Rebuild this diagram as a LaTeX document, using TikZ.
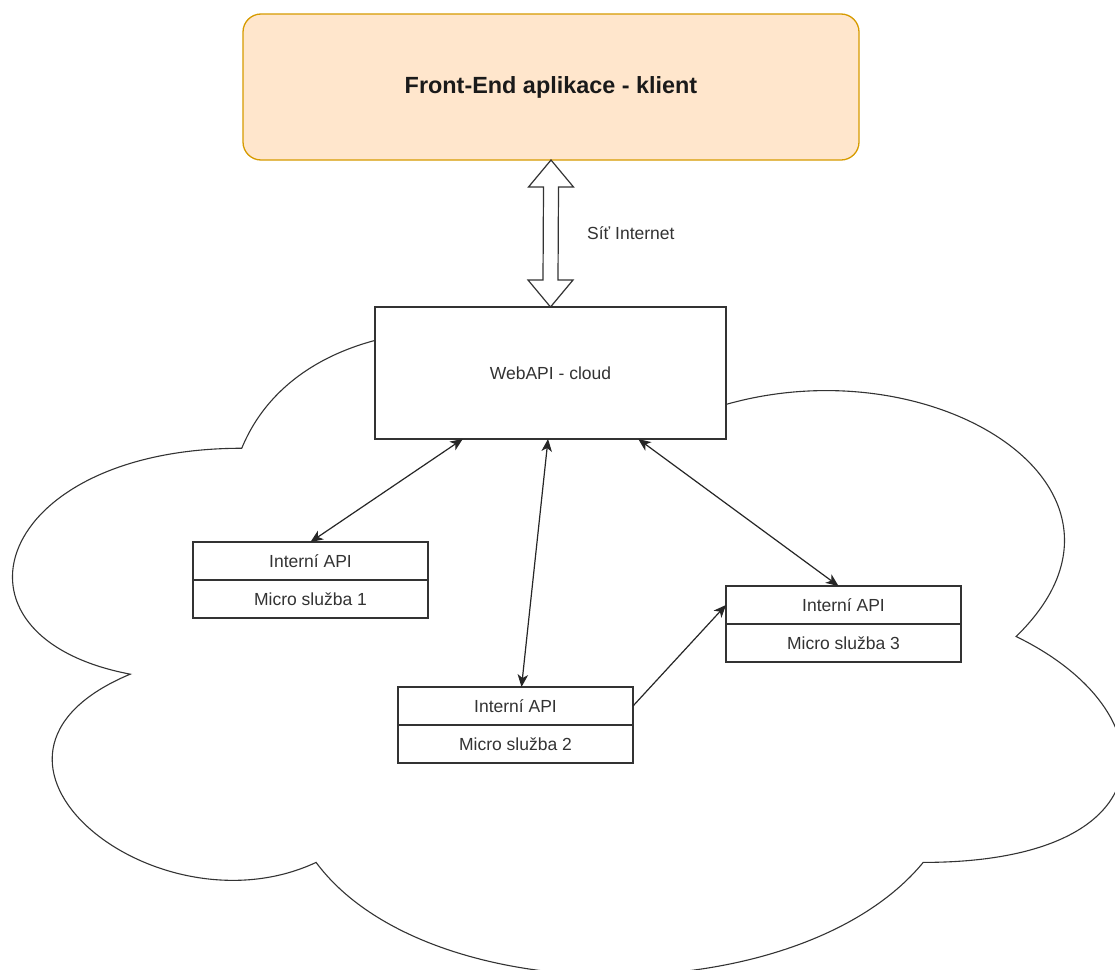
\documentclass[tikz,border=0pt]{standalone}
\usepackage{fontspec}
\setmainfont{Liberation Sans}
\usetikzlibrary{calc,arrows.meta}

\definecolor{lineC}{HTML}{333333}
\definecolor{textC}{HTML}{333333}
\definecolor{titleC}{HTML}{1A1A1A}
\definecolor{orangeFill}{HTML}{FFE6CC}
\definecolor{orangeLine}{HTML}{D79B00}

\tikzset{
  smalltext/.style={font=\fontsize{17.5}{21}\selectfont, text=textC},
  cell/.style={draw=lineC, line width=1.3pt, fill=white, minimum width=235pt,
               minimum height=38pt, inner sep=0pt, outer sep=0pt, smalltext},
  link/.style={draw=black!85, line width=1.2pt},
  tip/.style={-{Stealth[length=12.5pt,width=10.5pt,inset=3.5pt]}},
  tips/.style={{Stealth[length=12.5pt,width=10.5pt,inset=3.5pt]}-{Stealth[length=12.5pt,width=10.5pt,inset=3.5pt]}},
}

\begin{document}
\begin{tikzpicture}[x=1pt,y=1pt]
\useasboundingbox (0,0) rectangle (1115,-969);
\clip (0,0) rectangle (1115,-969);
\fill[white] (0,0) rectangle (1115,-969);

% cloud outline (cut by the page edges at bottom and right)
\draw[lineC, line width=1.1pt, fill=white]
  (241.75,-448.25)
  .. controls (-6.05,-448.25) and (-68,-636.5) .. (130.24,-674.15)
  .. controls (-68,-756.98) and (155.02,-937.7) .. (316.09,-862.4)
  .. controls (427.6,-1013) and (799.3,-1013) .. (923.2,-862.4)
  .. controls (1171,-862.4) and (1171,-711.8) .. (1016.1,-636.5)
  .. controls (1171,-485.9) and (923.2,-335.3) .. (706.4,-410.6)
  .. controls (551.5,-297.65) and (303.7,-297.65) .. (241.75,-448.25)
  -- cycle;

% client application
\node[draw=orangeLine, fill=orangeFill, line width=1.3pt, rounded corners=18pt,
      minimum width=616pt, minimum height=146pt, outer sep=0pt,
      font=\bfseries\fontsize{23.4}{28}\selectfont, text=titleC]
  (front) at (551,-87) {Front-End aplikace - klient};

% cloud web API
\node[draw=lineC, fill=white, line width=1.3pt, minimum width=351pt,
      minimum height=132pt, outer sep=0pt, smalltext]
  (web) at (550.5,-373) {WebAPI - cloud};

% network double arrow
\draw[lineC, line width=1.2pt, fill=white, line join=miter]
  (front.south)
  -- ($(front.south)+(22.5,-27)$) -- ($(front.south)+(7.5,-27)$)
  -- ($(web.north)+(7.5,27)$) -- ($(web.north)+(22.5,27)$)
  -- (web.north)
  -- ($(web.north)+(-22.5,27)$) -- ($(web.north)+(-7.5,27)$)
  -- ($(front.south)+(-7.5,-27)$) -- ($(front.south)+(-22.5,-27)$)
  -- cycle;
\node[anchor=west, smalltext, inner sep=0pt] (net) at (587,-233) {Síť Internet};

% micro services
\node[cell] (api1) at (310.5,-561) {Interní API};
\node[cell, anchor=north] (ms1) at (api1.south) {Micro služba 1};

\node[cell] (api2) at (515.5,-706) {Interní API};
\node[cell, anchor=north] (ms2) at (api2.south) {Micro služba 2};

\node[cell] (api3) at (843.5,-605) {Interní API};
\node[cell, anchor=north] (ms3) at (api3.south) {Micro služba 3};

% connections
\draw[link, tips] ($(web.south west)!0.25!(web.south east)$) -- (api1.north);
\draw[link, tips] ($(web.south west)!0.493!(web.south east)$) -- ($(api2.north)+(6,0)$);
\draw[link, tips] ($(web.south west)!0.75!(web.south east)$) -- ($(api3.north)+(-5,0)$);
\draw[link, tip] (api2.east) -- (api3.west);
\end{tikzpicture}
\end{document}
